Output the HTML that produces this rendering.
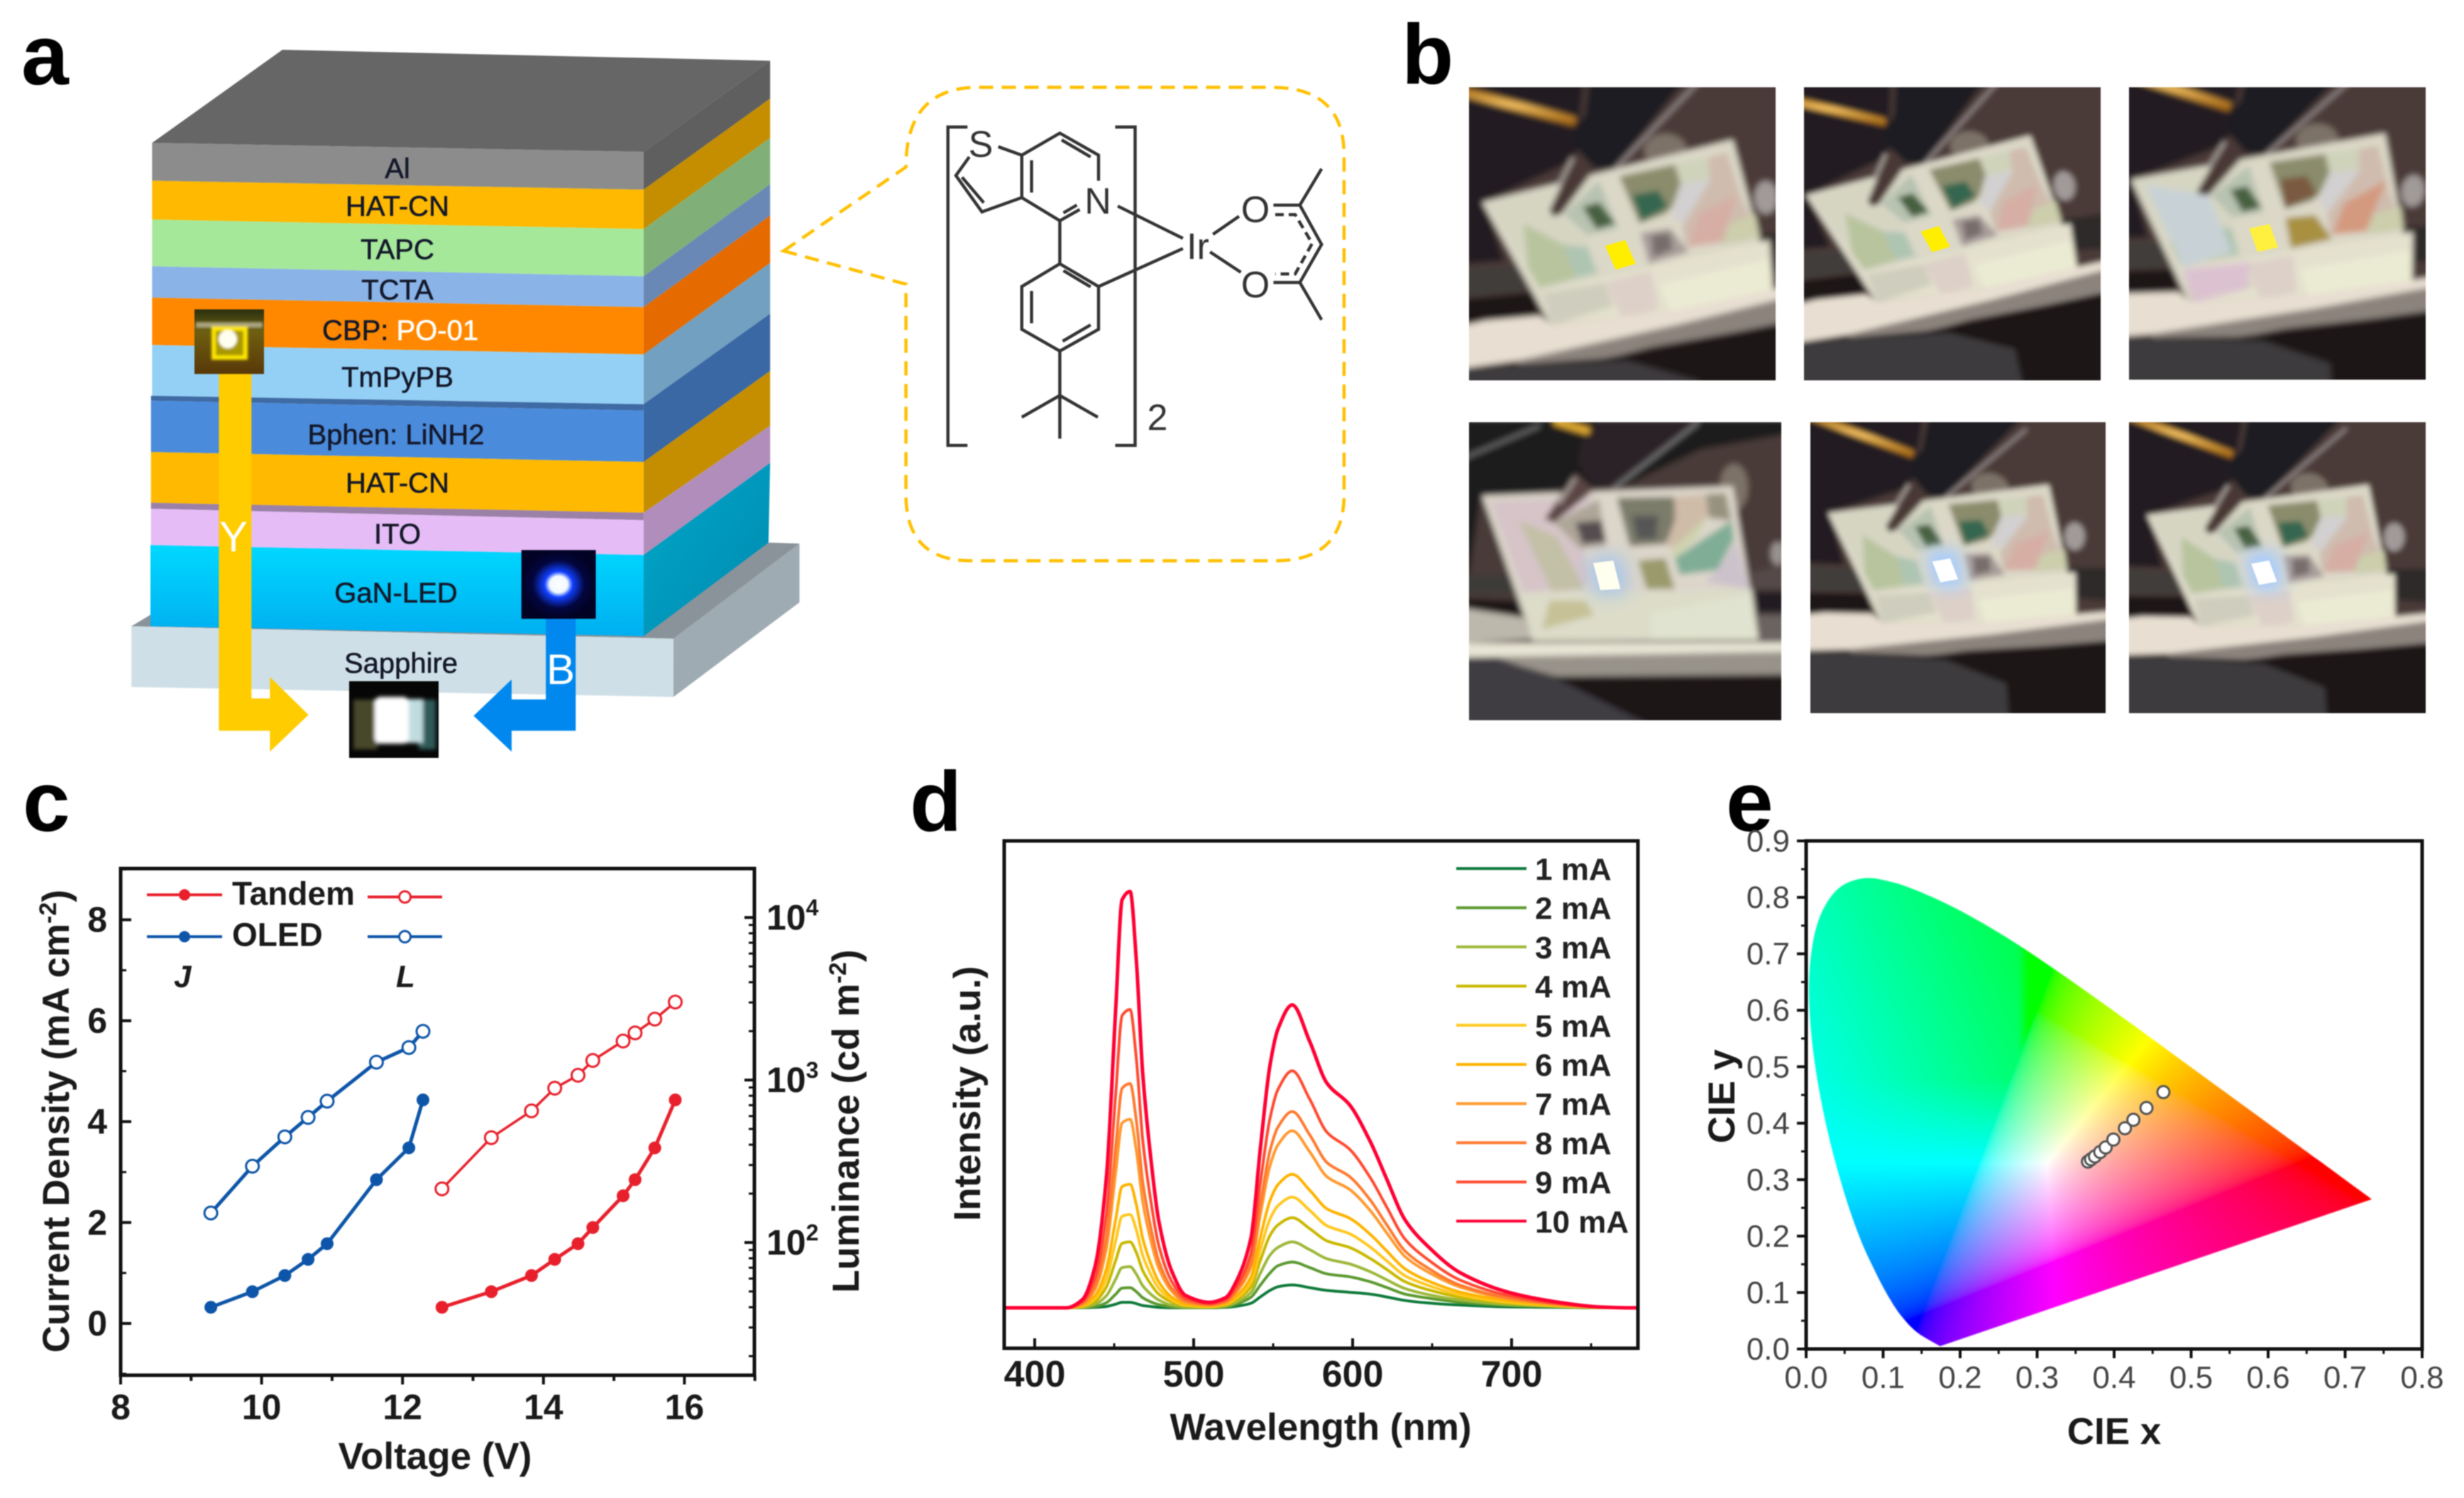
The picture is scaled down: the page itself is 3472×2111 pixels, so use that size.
<!DOCTYPE html>
<html lang="en">
<head>
<meta charset="utf-8">
<title>Tandem OLED figure</title>
<style>
html,body{margin:0;padding:0;background:#fff;width:3472px;height:2111px;overflow:hidden}
#wrap{position:absolute;left:0;top:0;width:3472px;height:2111px;filter:blur(.9px)}
#gamut{position:absolute;left:2545px;top:1185px;width:868px;height:716px}
svg{position:absolute;left:0;top:0}
text{font-family:"Liberation Sans",sans-serif}
.lab{font-size:120px;font-weight:bold;fill:#000}
.lay{font-size:40px;fill:#14182a;stroke:#14182a;stroke-width:.6px;text-anchor:middle}
.mol{font-size:52px;fill:#333;text-anchor:middle}
.ttl{font-size:53px;font-weight:bold;fill:#1a1a1a}
.tk{font-size:50px;font-weight:bold;fill:#1a1a1a}
.tke{font-size:44px;fill:#444}
</style>
</head>
<body>
<div id="wrap">
<canvas id="gamut" width="868" height="716"></canvas>
<svg id="fig" width="3472" height="2111" viewBox="0 0 3472 2111" xmlns="http://www.w3.org/2000/svg">
<defs>
  <linearGradient id="ganF" x1="0" y1="0" x2="0" y2="1"><stop offset="0" stop-color="#00d8ff"/><stop offset="1" stop-color="#00aef0"/></linearGradient>
  <linearGradient id="ganS" x1="0" y1="0" x2="1" y2="1"><stop offset="0" stop-color="#00a8c8"/><stop offset="1" stop-color="#0088b0"/></linearGradient>
  <radialGradient id="thB"><stop offset="0" stop-color="#ffffff"/><stop offset=".24" stop-color="#f0f8ff"/><stop offset=".38" stop-color="#1040ff"/><stop offset=".7" stop-color="#03063f"/><stop offset="1" stop-color="#020224"/></radialGradient>
  <linearGradient id="thYbg" x1="0" y1="0" x2="0" y2="1"><stop offset="0" stop-color="#2a3010"/><stop offset=".35" stop-color="#6e5e10"/><stop offset="1" stop-color="#583808"/></linearGradient>
  <linearGradient id="rod" x1="0" y1="0" x2="0" y2="1"><stop offset="0" stop-color="#a86c14"/><stop offset=".5" stop-color="#f4c060"/><stop offset="1" stop-color="#a86c14"/></linearGradient>
  <filter id="soft" x="-5%" y="-5%" width="110%" height="110%"><feGaussianBlur stdDeviation="13"/></filter>
  <filter id="glow" x="-150%" y="-150%" width="400%" height="400%"><feGaussianBlur stdDeviation="38"/></filter>
  <filter id="thSoft" x="-20%" y="-20%" width="140%" height="140%"><feGaussianBlur stdDeviation="3"/></filter>
  <filter id="thSoft2" x="-20%" y="-20%" width="140%" height="140%"><feGaussianBlur stdDeviation="1.8"/></filter>

  <clipPath id="cp1"><rect x="2070" y="123" width="432" height="413"/></clipPath>
  <clipPath id="cp2"><rect x="2542" y="123" width="418" height="413"/></clipPath>
  <clipPath id="cp3"><rect x="3000" y="123" width="418" height="412"/></clipPath>
  <clipPath id="cp4"><rect x="2070" y="595" width="440" height="420"/></clipPath>
  <clipPath id="cp5"><rect x="2551" y="595" width="416" height="410"/></clipPath>
  <clipPath id="cp6"><rect x="3000" y="595" width="418" height="410"/></clipPath>

  <g id="scene-tilted">
    <rect x="-400" y="-400" width="2200" height="2400" fill="#4c3a38"/>
    <polygon points="-400,-400 560,-400 480,330 90,510 180,760 -400,800" fill="#221f22"/>
    <line x1="-60" y1="25" x2="480" y2="170" stroke="url(#rod)" stroke-width="38"/>
    <ellipse cx="860" cy="290" rx="90" ry="70" fill="#7d7268"/>
    <ellipse cx="1285" cy="490" rx="50" ry="70" fill="#a09a98"/>
    <polygon points="1250,650 1700,600 1700,790 1290,800" fill="#2e2a2a"/>
    <polygon points="-400,800 250,780 280,880 -400,960" fill="#413c3a"/>
    <polygon points="-400,960 300,890 330,980 -400,1080" fill="#1a1718"/>
    <polygon points="590,-400 1260,-400 640,370 560,365 480,280 470,220 520,140" fill="#1c1a22"/>
    <line x1="1020" y1="-20" x2="650" y2="365" stroke="#b0a8a8" stroke-width="9"/>
    <polygon points="85,510 1145,245 1315,880 375,1030" fill="#dbd8c8"/>
    <polygon points="110,520 580,400 410,570 520,650 540,700 590,820 330,880" fill="#d6d5c2"/>
    <polygon points="260,600 430,690 530,760 560,810 330,870 280,790" fill="#b8c49e"/>
    <polygon points="430,690 530,700 570,810 480,830" fill="#aec5b2"/>
    <polygon points="430,560 580,420 660,620 530,650" fill="#b8c2b0"/>
    <polygon points="510,530 580,510 650,600 570,625" fill="#476040"/>
    <polygon points="665,400 900,350 925,430 890,530 860,560 750,600" fill="#8a8c6c"/>
    <polygon points="720,480 830,460 870,530 760,590" fill="#356650"/>
    <polygon points="900,350 1035,320 1055,410 925,430" fill="#cfd3ba"/>
    <polygon points="925,430 1055,410 950,610 890,570" fill="#d2d0d0"/>
    <polygon points="1040,320 1120,300 1185,500 1260,650 950,700 930,610 1050,420" fill="#cfbcae"/>
    <polygon points="1000,560 1160,480 1100,680 960,700" fill="#d6aea4"/>
    <polygon points="1130,600 1240,560 1260,660 1100,690" fill="#ccceac"/>
    <polygon points="755,640 880,620 960,720 790,770" fill="#a89c9a"/>
    <polygon points="800,650 880,640 890,710 810,740" fill="#776d6a"/>
    <polygon points="330,890 810,780 1300,670 1315,880 880,970 375,1030" fill="#e4e1ce"/>
    <polygon points="840,860 1300,750 1315,880 880,970" fill="#ebebd3"/>
    <polygon points="600,850 800,800 830,960 680,1000" fill="#ddd0c8"/>
    <polygon points="340,895 600,850 640,950 380,1030" fill="#cfcdbd"/>
    <polygon points="-400,1130 100,1010 330,990 380,1030 880,970 1700,800 1700,905 900,1030 230,1180 -400,1270" fill="#e8dfd2"/>
    <polygon points="230,1180 900,1030 1700,830 1700,965 800,1120 620,1170 240,1205" fill="#8c837d"/>
    <polygon points="-400,1240 600,1170 1700,950 1700,2000 -400,2000" fill="#1a1517"/>
    <polygon points="-400,1230 700,1180 1000,1265 1100,2000 -400,2000" fill="#3e3a3e"/>
    <polygon points="480,310 560,370 420,560 385,570 370,545" fill="#4a3735"/>
    <line x1="470" y1="320" x2="410" y2="440" stroke="#b8b0a8" stroke-width="13"/>
  </g>

  <g id="scene-front">
    <rect x="0" y="0" width="1400" height="1300" fill="#4a3a38"/>
    <polygon points="0,0 1400,0 1400,60 1010,130 700,280 80,330 30,660 0,660" fill="#1f1b1d"/>
    <line x1="0" y1="170" x2="330" y2="30" stroke="#8a8a8a" stroke-width="8"/>
    <line x1="390" y1="10" x2="540" y2="55" stroke="#e8b030" stroke-width="30"/>
    <ellipse cx="1150" cy="290" rx="60" ry="100" fill="#7d7268"/>
    <polygon points="0,660 210,660 225,740 0,740" fill="#3e3a38"/>
    <polygon points="0,760 240,770 260,840 0,800" fill="#1a1718"/>
    <polygon points="0,800 260,840 300,930 0,950" fill="#bcb8ac"/>
    <polygon points="1225,650 1400,610 1400,720 1230,720" fill="#554a48"/>
    <polygon points="1240,730 1400,730 1400,820 1245,820" fill="#241f20"/>
    <polygon points="1250,830 1400,830 1400,940 1260,940" fill="#6a6460"/>
    <ellipse cx="1335" cy="570" rx="30" ry="50" fill="#99938f"/>
    <polygon points="580,0 1030,0 640,290 560,280 490,190 500,110" fill="#2a2026"/>
    <line x1="1000" y1="15" x2="640" y2="295" stroke="#a0a0a0" stroke-width="8"/>
    <polygon points="85,325 1145,285 1255,935 300,940" fill="#dcd6ca"/>
    <polygon points="120,350 570,330 400,460 520,560 540,700 260,735" fill="#d6c4c8"/>
    <polygon points="240,430 400,500 520,720 380,730" fill="#c2c0a6"/>
    <polygon points="390,440 580,340 610,540 500,550" fill="#aea698"/>
    <polygon points="480,440 590,430 610,520 510,530" fill="#554d4f"/>
    <polygon points="655,335 895,330 910,430 860,530 710,540" fill="#7c7c6a"/>
    <polygon points="720,410 830,410 820,510 740,510" fill="#565656"/>
    <polygon points="900,330 1025,320 1045,410 900,540 860,540 900,430" fill="#cfbca8"/>
    <polygon points="1040,410 880,560 900,590 1000,500" fill="#ced3ae"/>
    <polygon points="1030,320 1115,315 1140,430 1045,420" fill="#97927f"/>
    <polygon points="1140,430 1150,510 1080,640 920,660 900,590" fill="#80ad96"/>
    <polygon points="1030,690 1080,640 1160,520 1215,720" fill="#ccc2cc"/>
    <polygon points="745,600 860,590 900,720 780,720" fill="#9a9a6c"/>
    <polygon points="240,745 1225,720 1255,935 300,940" fill="#dcdcc9"/>
    <polygon points="370,770 520,770 560,830 340,890" fill="#c6c196"/>
    <polygon points="800,820 1220,740 1255,935 800,935" fill="#e0e3cf"/>
    <polygon points="0,950 1400,945 1400,985 0,1010" fill="#e8e5d5"/>
    <polygon points="130,1010 1400,985 1400,1080 400,1090" fill="#98938a"/>
    <polygon points="0,1010 400,1090 1400,1085 1400,1300 0,1300" fill="#1a1517"/>
    <polygon points="0,1010 150,1010 400,1100 800,1300 0,1300" fill="#403c42"/>
    <polygon points="480,230 560,300 390,440 350,425" fill="#5a4442"/>
    <line x1="480" y1="250" x2="410" y2="360" stroke="#b8b0a8" stroke-width="12"/>
    <polygon points="560,40 850,20 640,280 560,280 490,190 500,110" fill="#2a2026"/>
  </g>
</defs>

<!-- panel labels -->
<text class="lab" x="30" y="119">a</text>
<text class="lab" x="1975" y="118">b</text>
<text class="lab" x="32" y="1171">c</text>
<text class="lab" x="1282" y="1171">d</text>
<text class="lab" x="2432" y="1171">e</text>

<!-- panel a: stack -->
<g id="stack" transform="scale(.7653,.7015)">
  <polygon points="242,1258 277,1235 1418,1090 1472,1092 1240,1283" fill="#8a9399"/>
  <polygon points="242,1258 1240,1283 1240,1400 242,1380" fill="#cfdfe7"/>
  <polygon points="1240,1283 1472,1092 1472,1210 1240,1400" fill="#9eabb2"/>
  <polygon points="280,287 520,100 1418,122 1185,305" fill="#666666"/>

  <g>
    <polygon points="1185,305 1418,122 1418,198 1185,381" fill="#5f5f5f"/>
    <polygon points="1185,381 1418,198 1418,277 1185,460" fill="#c48e00"/>
    <polygon points="1185,460 1418,277 1418,370 1185,555" fill="#80b078"/>
    <polygon points="1185,555 1418,370 1418,433 1185,617" fill="#6a88b5"/>
    <polygon points="1185,617 1418,433 1418,528 1185,712" fill="#e56a00"/>
    <polygon points="1185,712 1418,528 1418,630 1185,812" fill="#72a0c0"/>
    <polygon points="1185,812 1418,630 1418,745 1185,928" fill="#3a68a5"/>
    <polygon points="1185,928 1418,745 1418,855 1185,1030" fill="#c48e00"/>
    <polygon points="1185,1030 1418,855 1418,930 1185,1115" fill="#b08dba"/>
    <polygon points="1185,1115 1418,930 1415,1090 1185,1278" fill="url(#ganS)"/>
  </g>
  <g>
    <polygon points="280,287 1185,305 1185,381 280,363" fill="#8c8c8c"/>
    <polygon points="280,363 1185,381 1185,460 280,441" fill="#ffb900"/>
    <polygon points="280,441 1185,460 1185,555 280,535" fill="#a5e89a"/>
    <polygon points="280,535 1185,555 1185,617 280,598" fill="#8ab3e8"/>
    <polygon points="280,598 1185,617 1185,712 280,693" fill="#ff8800"/>
    <polygon points="280,693 1185,712 1185,812 280,795" fill="#94d0f5"/>
    <polygon points="278,795 1185,812 1185,825 278,805" fill="#3f6ba5"/>
    <polygon points="278,805 1185,825 1185,928 278,908" fill="#4a8bdc"/>
    <polygon points="278,908 1185,928 1185,1030 278,1010" fill="#ffb900"/>
    <polygon points="278,1010 1185,1030 1185,1045 278,1022" fill="#9b80a8"/>
    <polygon points="278,1022 1185,1045 1185,1115 278,1095" fill="#e5bcf5"/>
    <polygon points="277,1095 1185,1115 1185,1278 277,1258" fill="url(#ganF)"/>
  </g>
  <polygon points="403,750 463,750 463,1403 497,1403 497,1360 568,1436 497,1510 497,1468 403,1468" fill="#ffcc00"/>
  <polygon points="1005,1240 1060,1240 1060,1468 942,1468 942,1510 872,1438 942,1365 942,1405 1005,1405" fill="#0088ee"/>
  <rect x="960" y="1105" width="137" height="138" fill="url(#thB)"/>
</g>

<g>
  <rect x="274" y="436" width="98" height="91" fill="url(#thYbg)"/>
  <g filter="url(#thSoft2)">
    <rect x="276" y="454" width="94" height="8" fill="#aaa480"/>
    <rect x="301" y="463" width="45" height="41" fill="#a89800" stroke="#ffe800" stroke-width="6"/>
    <circle cx="321" cy="478" r="13" fill="#fffff0"/>
  </g>
</g>
<g>
  <rect x="492" y="960" width="126" height="108" fill="#060606"/>
  <g filter="url(#thSoft)">
    <rect x="498" y="986" width="34" height="70" fill="#46462c"/>
    <rect x="590" y="986" width="24" height="70" fill="#2e5a58"/>
    <rect x="570" y="985" width="26" height="62" fill="#c0dce0"/>
    <rect x="528" y="982" width="48" height="66" rx="8" fill="#ffffff"/>
  </g>
</g>

<g>
  <text class="lay" x="560" y="251">Al</text>
  <text class="lay" x="560" y="304">HAT-CN</text>
  <text class="lay" x="560" y="365">TAPC</text>
  <text class="lay" x="560" y="422">TCTA</text>
  <text class="lay" x="454" y="479" style="text-anchor:start">CBP: <tspan fill="#fff" stroke="#fff">PO-01</tspan></text>
  <text class="lay" x="560" y="545">TmPyPB</text>
  <text class="lay" x="558" y="626">Bphen: LiNH2</text>
  <text class="lay" x="560" y="694">HAT-CN</text>
  <text class="lay" x="560" y="766">ITO</text>
  <text class="lay" x="558" y="849">GaN-LED</text>
  <text class="lay" x="565" y="948">Sapphire</text>
  <text x="329" y="777" font-size="60" fill="#fff" text-anchor="middle">Y</text>
  <text x="790" y="964" font-size="60" fill="#fff" text-anchor="middle">B</text>
</g>

<!-- molecule -->
<g transform="translate(1200,80) scale(.5102,.4783)">
  <path d="M-188,572 L150,325 Q150,90 350,90 L1160,90 Q1360,90 1360,290 L1360,1290 Q1360,1485 1170,1485 L330,1485 Q150,1485 150,1290 L150,670 Z" fill="none" stroke="#ffc000" stroke-width="4.5" stroke-dasharray="20 12" vector-effect="non-scaling-stroke"/>
  <g fill="none" stroke="#333">
    <path stroke-width="4.4" vector-effect="non-scaling-stroke" d="M320,207H266V1145H320 M728,207H783V1145H728"/>
    <path stroke-width="4.4" vector-effect="non-scaling-stroke" d="M405,265L470,290L575,225L682,290V365 M470,290V415L360,457L288,350L325,295 M470,415L575,483L630,450 M580,245L660,295 M497,305V400 M305,355L365,430 M585,460L622,437 M575,483V610L682,677V803L575,867L470,803V677L575,610 M585,630L660,678 M660,790L583,838 M497,690V785 M575,867V998L470,1062 M575,998L680,1062 M575,998V1125 M735,440L915,535 M682,677L915,565 M998,523L1070,470 M990,575L1075,635 M1165,437H1238L1298,330 M1238,437L1298,553L1238,665L1298,775 M1165,665H1238"/>
    <path stroke-width="4.4" vector-effect="non-scaling-stroke" d="M1170,465H1225L1272,550L1225,640H1170" stroke-dasharray="12 7"/>
  </g>
</g>
<g>
  <text class="mol" x="1382" y="221">S</text>
  <text class="mol" x="1547" y="301">N</text>
  <text class="mol" x="1688" y="365">Ir</text>
  <text class="mol" x="1769" y="313">O</text>
  <text class="mol" x="1769" y="419">O</text>
  <text class="mol" x="1631" y="606">2</text>
</g>

<!-- panel b photos -->
<g clip-path="url(#cp1)">
  <g transform="matrix(.3333,0,0,.3333,2060,115)">
    <g filter="url(#soft)"><use href="#scene-tilted"/></g>
    <polygon points="605,695 690,670 735,770 650,795" fill="#ffee00"/>
  </g>
</g>
<g clip-path="url(#cp2)">
  <g transform="matrix(.304,-.006,.0219,.2945,2507.5,125.3)">
    <g filter="url(#soft)"><use href="#scene-tilted"/></g>
    <polygon points="605,695 690,670 735,770 650,795" fill="#ffee00"/>
  </g>
</g>
<g clip-path="url(#cp3)">
  <g transform="matrix(.3308,.0187,-.0287,.321,2989,87.7)">
    <g filter="url(#soft)">
      <use href="#scene-tilted"/>
      <polygon points="150,530 420,560 540,800 340,880" fill="#c8d2d6"/>
      <polygon points="340,890 620,840 620,960 400,1030" fill="#dcc2d0"/>
      <polygon points="755,640 880,620 960,720 790,770" fill="#a89040"/>
      <polygon points="720,470 830,450 880,530 750,600" fill="#7a5a40"/>
      <polygon points="1000,560 1170,450 1100,680 960,700" fill="#d49a80"/>
    </g>
    <polygon points="605,695 690,670 735,770 650,795" fill="#fff040"/>
  </g>
</g>
<g clip-path="url(#cp4)">
  <g transform="matrix(.3333,0,0,.3333,2060,590)">
    <g filter="url(#soft)"><use href="#scene-front"/></g>
    <polygon points="530,590 680,580 700,740 560,745" fill="#a0c4f0" opacity=".9" filter="url(#glow)"/>
    <polygon points="555,610 640,600 670,720 585,725" fill="#fffff0"/>
  </g>
</g>
<g clip-path="url(#cp5)">
  <g transform="matrix(.2895,.032,-.0177,.2796,2560,577.6)">
    <g filter="url(#soft)"><use href="#scene-tilted"/></g>
    <polygon points="570,640 730,620 770,810 620,830" fill="#a8ccff" filter="url(#glow)"/>
    <polygon points="605,695 690,670 735,770 650,795" fill="#ffffff"/>
  </g>
</g>
<g clip-path="url(#cp6)">
  <g transform="matrix(.2904,.0306,-.0195,.2847,3010,578)">
    <g filter="url(#soft)"><use href="#scene-tilted"/></g>
    <polygon points="570,640 730,620 770,810 620,830" fill="#a8ccff" filter="url(#glow)"/>
    <polygon points="605,695 690,670 735,770 650,795" fill="#ffffff"/>
  </g>
</g>

<g id="chartC"></g>
<g id="chartD"></g>
<g id="chartE"></g>
</svg>
</div>
<script>
/* ---- chart c data ---- */
const tandemVoltage = [12.56,13.26,13.83,14.16,14.49,14.70,15.13,15.30,15.58,15.87];
const tandemCurrent = [0.32,0.63,0.95,1.27,1.58,1.90,2.53,2.85,3.48,4.43];
const tandemLuminance = [214,442,646,891,1070,1320,1738,1950,2370,3020];
const oledVoltage = [9.28,9.87,10.33,10.66,10.93,11.63,12.09,12.29];
const oledCurrent = [0.32,0.63,0.95,1.27,1.58,2.85,3.48,4.43];
const oledLuminance = [152,295,447,589,741,1288,1585,1995];
const voltageTicks = [8,10,12,14,16];
const voltageMinorTicks = [9,11,13,15,17];
const currentTicks = [0,2,4,6,8];
const currentMinorTicks = [-1,1,3,5,7,9];
const luminanceExponents = [2,3,4];

/* ---- chart d data ---- */
const wavelengths = [381,420,430,438,445,451,455,460,464,468,473,478,486,495,510,520,526,536,542,548,553,562,573,584,598,611,621,633,646,668,699,730,755,775,779];
const intensity1mA = [0,0,0,1,3,8,12,12,9,5,3,1,0,0,0,1,3,10,24,38,46,50,44,38,34,30,24,16,11,6,2,1,0,0,0];
const intensity2mA = [0,0,0,3,11,30,43,44,35,22,13,7,2,0,0,2,7,23,50,76,92,100,88,74,68,57,45,30,22,12,5,2,0,0,0];
const intensity3mA = [0,0,1,8,26,63,88,90,73,48,30,17,6,2,1,4,11,33,76,115,132,144,127,107,96,79,62,42,30,17,7,3,0,0,0];
const intensity4mA = [0,0,3,14,45,104,141,144,120,81,52,30,13,4,2,6,16,45,104,158,181,197,173,146,132,108,85,57,41,23,10,4,1,0,0];
const intensity5mA = [0,0,4,20,63,147,200,204,169,114,73,43,18,6,3,8,19,56,128,194,223,242,213,179,162,133,104,70,51,28,12,4,1,0,0];
const intensity6mA = [0,0,5,27,84,194,265,270,224,151,97,57,24,8,4,9,23,67,155,234,269,292,257,216,196,161,126,85,61,34,15,5,1,0,0];
const intensity7mA = [0,0,8,41,128,297,404,412,342,231,148,87,37,12,6,12,31,89,205,310,356,387,341,286,259,213,166,112,81,45,19,7,1,0,0];
const intensity8mA = [0,0,10,49,152,353,480,490,407,274,176,103,44,15,7,14,34,99,227,343,395,429,378,317,287,236,184,124,90,49,21,8,1,0,0];
const intensity9mA = [0,0,13,65,202,469,639,652,541,365,235,137,59,20,9,17,41,119,275,414,477,518,456,383,347,285,223,150,109,60,26,9,2,0,0];
const intensity10mA = [0,0,18,91,282,655,892,910,755,510,328,191,82,27,12,22,52,152,351,530,609,662,582,490,444,364,285,192,139,76,33,12,2,0,0];
const spectraLabels = ["1 mA","2 mA","3 mA","4 mA","5 mA","6 mA","7 mA","8 mA","9 mA","10 mA"];
const wavelengthTicks = [400,500,600,700];
const wavelengthMinorTicks = [450,550,650,750];

/* ---- chart e data ---- */
const cieX = [0.366,0.370,0.375,0.382,0.389,0.399,0.414,0.425,0.442,0.464];
const cieY = [0.332,0.336,0.341,0.349,0.357,0.371,0.391,0.406,0.427,0.455];
const cieXTicks = [0,0.1,0.2,0.3,0.4,0.5,0.6,0.7,0.8];
const cieYTicks = [0,0.1,0.2,0.3,0.4,0.5,0.6,0.7,0.8,0.9];
const locusX = [.1741,.1440,.1241,.1096,.0913,.0687,.0454,.0235,.0082,.0039,.0139,.0389,.0743,.1142,.1547,.1929,.2296,.2658,.3016,.3373,.3731,.4087,.4441,.4788,.5125,.5448,.5752,.6029,.6270,.6658,.6915,.7079,.7190,.7347];
const locusY = [.0050,.0297,.0578,.0868,.1327,.2007,.2950,.4127,.5384,.6548,.7502,.8120,.8338,.8262,.8059,.7816,.7543,.7243,.6923,.6589,.6245,.5896,.5547,.5202,.4866,.4544,.4242,.3965,.3725,.3340,.3083,.2920,.2809,.2653];

const NS = "http://www.w3.org/2000/svg";
function mk(parent, tag, attrs, txt){
  const e = document.createElementNS(NS, tag);
  for (const k in attrs) e.setAttribute(k, attrs[k]);
  if (txt !== undefined) e.textContent = txt;
  parent.appendChild(e);
  return e;
}
function pathOf(xs, ys){ return xs.map((v,i)=>(i?"L":"M")+v.toFixed(1)+","+ys[i].toFixed(1)).join(""); }
/* smooth curve through the points (Catmull-Rom to bezier) */
function smoothOf(xs, ys){
  let d = "M"+xs[0].toFixed(1)+","+ys[0].toFixed(1);
  for (let i=0;i<xs.length-1;i++){
    const i0=Math.max(i-1,0), i3=Math.min(i+2,xs.length-1);
    const c1x=xs[i]+(xs[i+1]-xs[i0])/6, c1y=ys[i]+(ys[i+1]-ys[i0])/6;
    const c2x=xs[i+1]-(xs[i3]-xs[i])/6, c2y=ys[i+1]-(ys[i3]-ys[i])/6;
    d+="C"+c1x.toFixed(1)+","+c1y.toFixed(1)+" "+c2x.toFixed(1)+","+c2y.toFixed(1)+" "+xs[i+1].toFixed(1)+","+ys[i+1].toFixed(1);
  }
  return d;
}
/* monotone cubic through the points: no overshoot at the peaks */
function monotoneOf(xs, ys){
  const n=xs.length, dx=[], sl=[], m=[];
  for (let i=0;i<n-1;i++){ dx[i]=xs[i+1]-xs[i]; sl[i]=(ys[i+1]-ys[i])/dx[i]; }
  m[0]=sl[0]; m[n-1]=sl[n-2];
  for (let i=1;i<n-1;i++){ m[i]= sl[i-1]*sl[i]<=0 ? 0 : 2*sl[i-1]*sl[i]/(sl[i-1]+sl[i]); }
  let d="M"+xs[0].toFixed(1)+","+ys[0].toFixed(1);
  for (let i=0;i<n-1;i++){
    d+="C"+(xs[i]+dx[i]/3).toFixed(1)+","+(ys[i]+m[i]*dx[i]/3).toFixed(1)+" "+(xs[i+1]-dx[i]/3).toFixed(1)+","+(ys[i+1]-m[i+1]*dx[i]/3).toFixed(1)+" "+xs[i+1].toFixed(1)+","+ys[i+1].toFixed(1);
  }
  return d;
}

/* ===== chart c ===== */
(function(){
  const g = document.getElementById("chartC");
  const L=170,R=1063,T=1224,B=1938;
  const X = v => L + (v-8)*99.3;
  const YJ = j => 1865 - j*71.1;
  const YL = l => 1751 - (Math.log10(l)-2)*229;

  const frame = mk(g,"rect",{x:L,y:T,width:R-L,height:B-T,fill:"none",stroke:"#111","stroke-width":5});
  
  

  voltageTicks.forEach(v=>{
    const t = mk(g,"line",{x1:X(v),x2:X(v),y1:B,y2:B+13,stroke:"#111","stroke-width":4});
    
    
    const l = mk(g,"text",{x:X(v),y:2000,class:"tk","text-anchor":"middle"},String(v));
    
    
  });
  voltageMinorTicks.forEach(v=>{
    const t = mk(g,"line",{x1:X(v),x2:X(v),y1:B,y2:B+8,stroke:"#111","stroke-width":4});
    
    
  });
  currentTicks.forEach(v=>{
    const t = mk(g,"line",{x1:L,x2:L+15,y1:YJ(v),y2:YJ(v),stroke:"#111","stroke-width":4});
    
    
    const l = mk(g,"text",{x:151,y:YJ(v)+17,class:"tk","text-anchor":"end"},String(v));
    
    
  });
  currentMinorTicks.forEach(v=>{
    const t = mk(g,"line",{x1:L,x2:L+8,y1:YJ(v),y2:YJ(v),stroke:"#111","stroke-width":3});
    
    
  });
  luminanceExponents.forEach(ex=>{
    const v = Math.pow(10,ex);
    const t = mk(g,"line",{x1:R-14,x2:R,y1:YL(v),y2:YL(v),stroke:"#111","stroke-width":4});
    
    
    const l = mk(g,"text",{x:1080,y:YL(v)+17,class:"tk"});
    
    
    mk(l,"tspan",{},"10");
    mk(l,"tspan",{dy:-20,"font-size":32},String(ex));
  });
  [1,2,3].forEach(ex=>{
    [2,3,4,5,6,7,8,9].forEach(m=>{
      const v = m*Math.pow(10,ex);
      const y = YL(v);
      if (y>T && y<B){
        const t = mk(g,"line",{x1:R-8,x2:R,y1:y,y2:y,stroke:"#111","stroke-width":3});
        
        
      }
    });
  });

  const xt = mk(g,"text",{x:613,y:2070,class:"ttl","text-anchor":"middle"},"Voltage (V)");
  
  
  const yt = mk(g,"text",{transform:"translate(97,1580) rotate(-90)",class:"ttl","text-anchor":"middle"});
  
  
  mk(yt,"tspan",{},"Current Density (mA cm");
  mk(yt,"tspan",{dy:-18,"font-size":34},"-2");
  mk(yt,"tspan",{dy:18},")");
  const yr = mk(g,"text",{transform:"translate(1210,1580) rotate(-90)",class:"ttl","text-anchor":"middle"});
  
  
  mk(yr,"tspan",{},"Luminance (cd m");
  mk(yr,"tspan",{dy:-18,"font-size":34},"-2");
  mk(yr,"tspan",{dy:18},")");

  function series(xs, vals, yf, color, open, sw, name){
    const px = xs.map(X), py = vals.map(yf);
    const p = mk(g,"path",{d:pathOf(px,py),fill:"none",stroke:color,"stroke-width":sw});
    
    
    px.forEach((x,i)=>{
      const c = mk(g,"circle",{cx:x,cy:py[i],r:open?9:8,fill:open?"#fff":color,stroke:color,"stroke-width":open?3:2});
      
      
    });
  }
  series(oledVoltage,oledLuminance,YL,"#0d55a8",true,5,"oled-luminance");
  series(oledVoltage,oledCurrent,YJ,"#0d55a8",false,5,"oled-current");
  series(tandemVoltage,tandemLuminance,YL,"#e8202c",true,3.5,"tandem-luminance");
  series(tandemVoltage,tandemCurrent,YJ,"#e8202c",false,5,"tandem-current");

  function legendLine(x1,x2,y,color,open,name){
    const l = mk(g,"line",{x1:x1,x2:x2,y1:y,y2:y,stroke:color,"stroke-width":4});
    
    
    const c = mk(g,"circle",{cx:(x1+x2)/2,cy:y,r:open?8:7,fill:open?"#fff":color,stroke:color,"stroke-width":open?3:2});
    
    
  }
  legendLine(207,313,1261,"#e8202c",false,"legend-tandem-j");
  legendLine(518,623,1264,"#e8202c",true,"legend-tandem-l");
  legendLine(207,313,1320,"#0d55a8",false,"legend-oled-j");
  legendLine(518,623,1320,"#0d55a8",true,"legend-oled-l");
  const t1 = mk(g,"text",{x:327,y:1275,"font-size":46,"font-weight":"bold",fill:"#1a1a1a"},"Tandem");
  
  
  const t2 = mk(g,"text",{x:327,y:1333,"font-size":46,"font-weight":"bold",fill:"#1a1a1a"},"OLED");
  
  
  const j = mk(g,"text",{x:245,y:1391,"font-size":44,"font-weight":"bold","font-style":"italic",fill:"#1a1a1a"},"J");
  
  
  const el = mk(g,"text",{x:558,y:1391,"font-size":44,"font-weight":"bold","font-style":"italic",fill:"#1a1a1a"},"L");
  
  
})();

/* ===== chart d ===== */
(function(){
  const g = document.getElementById("chartD");
  const L=1415,R=2308,T=1185,B=1900;
  const X = w => 1458 + (w-400)*2.24;
  const Y = v => 1843 - v*0.6448;
  const allSeries = [intensity1mA,intensity2mA,intensity3mA,intensity4mA,intensity5mA,intensity6mA,intensity7mA,intensity8mA,intensity9mA,intensity10mA];
  const palette = ["#0e7a3a","#5c9a30","#9db83a","#c9b800","#ffc820","#ffb300","#ff9a30","#ff7a30","#ff4a30","#ff0033"];

  allSeries.forEach((vals,i)=>{
    const p = mk(g,"path",{d:monotoneOf(wavelengths.map(X),vals.map(Y)),fill:"none",stroke:palette[i],"stroke-width":i===9?5:4,"stroke-linejoin":"round"});
    
    
    const yL = 1224 + i*55.2;
    const l = mk(g,"line",{x1:2052,x2:2151,y1:yL,y2:yL,stroke:palette[i],"stroke-width":4});
    
    
    const t = mk(g,"text",{x:2163,y:yL+16,"font-size":44,"font-weight":"bold",fill:"#222"},spectraLabels[i]);
    
    
  });

  const frame = mk(g,"rect",{x:L,y:T,width:R-L,height:B-T,fill:"none",stroke:"#111","stroke-width":5});
  
  
  wavelengthTicks.forEach(w=>{
    const t = mk(g,"line",{x1:X(w),x2:X(w),y1:B,y2:B-14,stroke:"#111","stroke-width":4});
    
    
    const l = mk(g,"text",{x:X(w),y:1954,"font-size":52,"font-weight":"bold",fill:"#1a1a1a","text-anchor":"middle"},String(w));
    
    
  });
  wavelengthMinorTicks.forEach(w=>{
    const t = mk(g,"line",{x1:X(w),x2:X(w),y1:B,y2:B-7,stroke:"#111","stroke-width":3});
    
    
  });
  const xt = mk(g,"text",{x:1861,y:2029,class:"ttl","text-anchor":"middle"},"Wavelength (nm)");
  
  
  const yt = mk(g,"text",{transform:"translate(1381,1541) rotate(-90)",class:"ttl","text-anchor":"middle"},"Intensity (a.u.)");
  
  
})();

/* ===== chart e ===== */
(function(){
  const g = document.getElementById("chartE");
  const L=2545,R=3413,T=1185,B=1901;
  const X = v => L + v*1085;
  const Y = v => B - v*795.5;

  /* gamut */
  const cv = document.getElementById("gamut");
  const ctx = cv.getContext("2d");
  const img = ctx.createImageData(cv.width,cv.height);
  const gam = c => c<=0.0031308 ? 12.92*c : 1.055*Math.pow(c,1/2.4)-0.055;
  const clamp01 = v => Math.min(1,Math.max(0,v));
  for (let py=0;py<cv.height;py++){
    for (let px=0;px<cv.width;px++){
      const cx=(px+.5)/1085, cy=(cv.height-py-.5)/795.5;
      const yy=Math.max(cy,0.001);
      const XX=cx/yy, YY=1, ZZ=(1-cx-cy)/yy;
      let r= 3.2406*XX-1.5372*YY-0.4986*ZZ;
      let gg=-0.9689*XX+1.8758*YY+0.0415*ZZ;
      let b= 0.0557*XX-0.2040*YY+1.0570*ZZ;
      const negR = r<0;
      r=Math.max(r,0);gg=Math.max(gg,0);b=Math.max(b,0);
      const m=Math.max(r,gg,b,1e-6);
      let bOut=gam(b/m);
      if (negR && gg>=b){
        const d=Math.max(cy-.33,0);
        const b1=1-.55*d-1.73*cx*Math.min(1,d/.15);
        const b2=bOut*clamp01((.56-cy)/.08);
        const s=clamp01((.29-cx)/.015);
        bOut=s*b1+(1-s)*b2;
      }
      const i=(py*cv.width+px)*4;
      img.data[i]=255*gam(r/m);
      img.data[i+1]=255*gam(gg/m);
      img.data[i+2]=255*clamp01(bOut);
      img.data[i+3]=255;
    }
  }
  ctx.putImageData(img,0,0);
  ctx.globalCompositeOperation="destination-in";
  const lx=locusX.map(x=>x*1085), ly=locusY.map(y=>cv.height-y*795.5);
  ctx.fill(new Path2D(smoothOf(lx,ly)+"Z"));

  const frame = mk(g,"rect",{x:L,y:T,width:R-L,height:B-T,fill:"none",stroke:"#111","stroke-width":5});
  
  

  cieXTicks.forEach((v,i)=>{
    const t = mk(g,"line",{x1:X(v),x2:X(v),y1:B,y2:B+13,stroke:"#111","stroke-width":4});
    
    
    const l = mk(g,"text",{x:X(v),y:1956,class:"tke","text-anchor":"middle"},v.toFixed(1));
    
    
    if (i<cieXTicks.length-1){
      const m = mk(g,"line",{x1:X(v+0.05),x2:X(v+0.05),y1:B,y2:B+7,stroke:"#111","stroke-width":3});
      
      
    }
  });
  cieYTicks.forEach((v,i)=>{
    const t = mk(g,"line",{x1:L-13,x2:L,y1:Y(v),y2:Y(v),stroke:"#111","stroke-width":4});
    
    
    const l = mk(g,"text",{x:2522,y:Y(v)+15,class:"tke","text-anchor":"end"},v.toFixed(1));
    
    
    if (i<cieYTicks.length-1){
      const m = mk(g,"line",{x1:L-7,x2:L,y1:Y(v+0.05),y2:Y(v+0.05),stroke:"#111","stroke-width":3});
      
      
    }
  });
  cieX.forEach((x,i)=>{
    const c = mk(g,"circle",{cx:X(x),cy:Y(cieY[i]),r:8.5,fill:"#fff",stroke:"#555","stroke-width":3});
    
    
  });
  const xt = mk(g,"text",{x:2979,y:2035,class:"ttl","text-anchor":"middle"},"CIE x");
  
  
  const yt = mk(g,"text",{transform:"translate(2444,1545) rotate(-90)",class:"ttl","text-anchor":"middle"},"CIE y");
  
  
})();
</script>
</body>
</html>
